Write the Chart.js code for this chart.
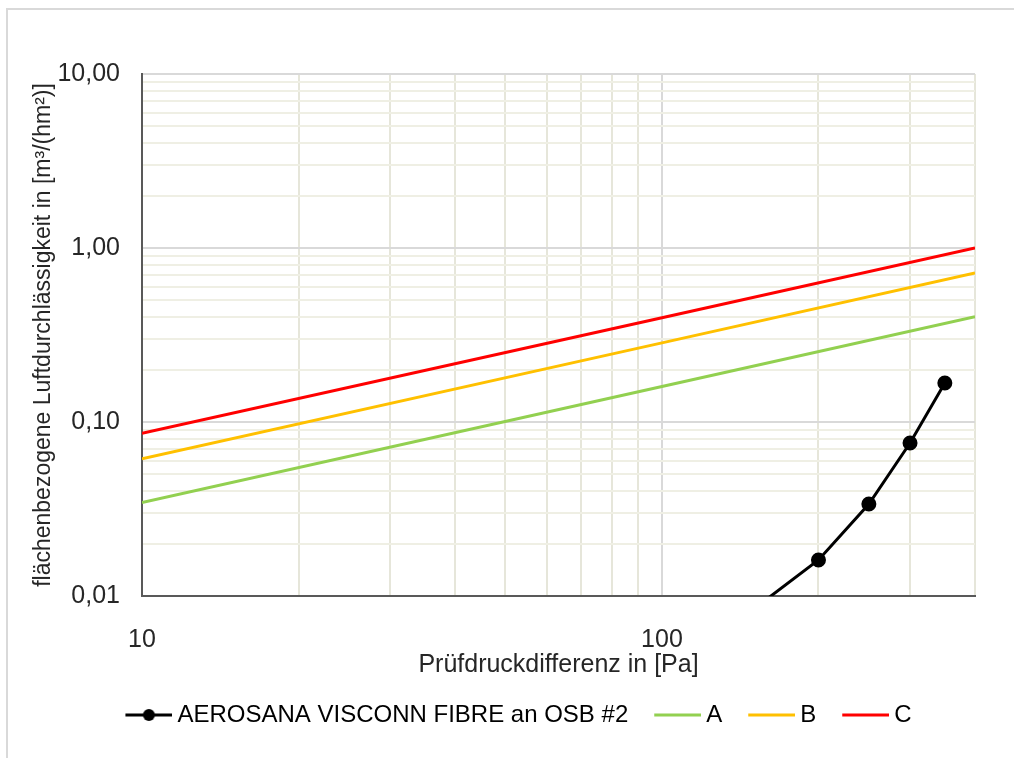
<!DOCTYPE html>
<html>
<head>
<meta charset="utf-8">
<script src="https://cdn.jsdelivr.net/npm/chart.js@4"></script>
<style>
  html, body { margin: 0; padding: 0; background: #fff; overflow: hidden; }
  #wrap { position: relative; width: 1014px; height: 758px; }
  #frame { position: absolute; left: 6px; top: 8px; right: 0; bottom: 0;
           border-top: 2px solid #d9d9d9; border-left: 2px solid #d9d9d9; }
  #chart { position: absolute; left: 0; top: 0; }
</style>
</head>
<body>
<div id="wrap">
  <div id="frame"></div>
  <canvas id="chart" width="1014" height="758"></canvas>
</div>
<script>
// measured series (Pa -> m³/(hm²))
const blackX = [150, 200, 250, 300, 350];
const blackY = [0.0084, 0.0161, 0.0338, 0.0757, 0.1675];

const classX = [10, 100, 400];
const classA = [0.0345, 0.160, 0.403];
const classB = [0.0615, 0.285, 0.718];
const classC = [0.086, 0.397, 1.0];

// ticks / labels
const xGridTicks = [10, 20, 30, 40, 50, 60, 70, 80, 90, 100, 200, 300, 400];
const xLabelValues = [10, 100];
const xLabelTexts = ['10', '100'];
const yGridTicks = [0.01, 0.02, 0.03, 0.04, 0.05, 0.06, 0.07, 0.08, 0.09,
                    0.1, 0.2, 0.3, 0.4, 0.5, 0.6, 0.7, 0.8, 0.9,
                    1, 2, 3, 4, 5, 6, 7, 8, 9, 10];
const yLabelValues = [0.01, 0.1, 1, 10];
const yLabelTexts = ['0,01', '0,10', '1,00', '10,00'];

const seriesNames = ['AEROSANA VISCONN FIBRE an OSB #2', 'A', 'B', 'C'];
const seriesColors = ['#000000', '#92D050', '#FFC000', '#FF0000'];

const toPoints = (xs, ys) => xs.map((x, i) => ({ x: x, y: ys[i] }));

const findLabel = (values, texts, v) => {
    const i = values.findIndex(t => Math.abs(t - v) < 1e-9);
    return i >= 0 ? texts[i] : '';
};
const isDecade = v => Math.abs(Math.log10(v) - Math.round(Math.log10(v))) < 1e-6;

// legend symbols (line, black one with dot)
function legendSymbol(color, withDot) {
    const c = document.createElement('canvas');
    c.width = 54;
    c.height = 16;
    const g = c.getContext('2d');
    g.strokeStyle = color;
    g.lineWidth = 3;
    g.beginPath();
    g.moveTo(7, 8);
    g.lineTo(54, 8);
    g.stroke();
    if (withDot) {
        g.fillStyle = color;
        g.beginPath();
        g.arc(30.5, 8, 6, 0, Math.PI * 2);
        g.fill();
    }
    return c;
}
const symbols = seriesColors.map((col, i) => legendSymbol(col, i === 0));

const legendShift = {
    id: 'legendShift',
    afterLayout(chart) {
        chart.legend.left += 31;
        chart.legend.right += 31;
    }
};

const family = '"Liberation Sans", Arial, sans-serif';
const font = { family: family, size: 25 };
const legendFont = { family: family, size: 24 };

const ctx = document.querySelector('#chart').getContext('2d');

new Chart(ctx, {
    type: 'scatter',
    data: {
        datasets: [
            {
                label: seriesNames[0],
                data: toPoints(blackX, blackY),
                showLine: true,
                borderColor: seriesColors[0],
                backgroundColor: seriesColors[0],
                borderWidth: 3,
                pointRadius: 6,
                pointHoverRadius: 6,
            },
            {
                label: seriesNames[1],
                data: toPoints(classX, classA),
                showLine: true,
                borderColor: seriesColors[1],
                backgroundColor: seriesColors[1],
                borderWidth: 3,
                pointRadius: 0,
            },
            {
                label: seriesNames[2],
                data: toPoints(classX, classB),
                showLine: true,
                borderColor: seriesColors[2],
                backgroundColor: seriesColors[2],
                borderWidth: 3,
                pointRadius: 0,
            },
            {
                label: seriesNames[3],
                data: toPoints(classX, classC),
                showLine: true,
                borderColor: seriesColors[3],
                backgroundColor: seriesColors[3],
                borderWidth: 3,
                pointRadius: 0,
            }
        ]
    },
    options: {
        responsive: false,
        animation: false,
        devicePixelRatio: 1,
        layout: { padding: { left: 0, right: 39, top: 74, bottom: 21 } },
        scales: {
            x: {
                type: 'logarithmic',
                min: 10,
                max: 400,
                afterBuildTicks: scale => { scale.ticks = xGridTicks.map(v => ({ value: v })); },
                afterFit: scale => { scale.height = 81; },
                ticks: {
                    autoSkip: false,
                    maxRotation: 0,
                    padding: 29,
                    color: '#262626',
                    font: font,
                    callback: v => findLabel(xLabelValues, xLabelTexts, v)
                },
                grid: {
                    drawTicks: false,
                    lineWidth: 2,
                    color: c => isDecade(c.tick.value) ? '#d9d9d9' : '#e6e6da'
                },
                border: { color: '#595959', width: 2 },
                title: {
                    display: true,
                    text: 'Prüfdruckdifferenz in [Pa]',
                    color: '#262626',
                    font: font,
                    padding: { top: 0, bottom: -3 }
                }
            },
            y: {
                type: 'logarithmic',
                min: 0.01,
                max: 10,
                afterBuildTicks: scale => { scale.ticks = yGridTicks.map(v => ({ value: v })); },
                afterFit: scale => { scale.width = 142; },
                ticks: {
                    autoSkip: false,
                    padding: 22,
                    color: '#262626',
                    font: font,
                    callback: v => findLabel(yLabelValues, yLabelTexts, v)
                },
                grid: {
                    drawTicks: false,
                    lineWidth: 2,
                    color: c => isDecade(c.tick.value) ? '#d9d9d9' : '#efefe4'
                },
                border: { color: '#595959', width: 2 },
                title: {
                    display: true,
                    text: 'flächenbezogene Luftdurchlässigkeit in [m³/(hm²)]',
                    color: '#262626',
                    font: { family: family, size: 23 },
                    padding: { top: 30, bottom: 0 }
                }
            }
        },
        plugins: {
            tooltip: { enabled: false },
            legend: {
                position: 'bottom',
                labels: {
                    usePointStyle: true,
                    pointStyleWidth: 40,
                    padding: 26,
                    color: '#000000',
                    font: legendFont,
                    generateLabels: chart =>
                        Chart.defaults.plugins.legend.labels.generateLabels(chart)
                            .map((item, i) => Object.assign(item, { pointStyle: symbols[i] }))
                }
            }
        }
    },
    plugins: [legendShift]
});
</script>
</body>
</html>
